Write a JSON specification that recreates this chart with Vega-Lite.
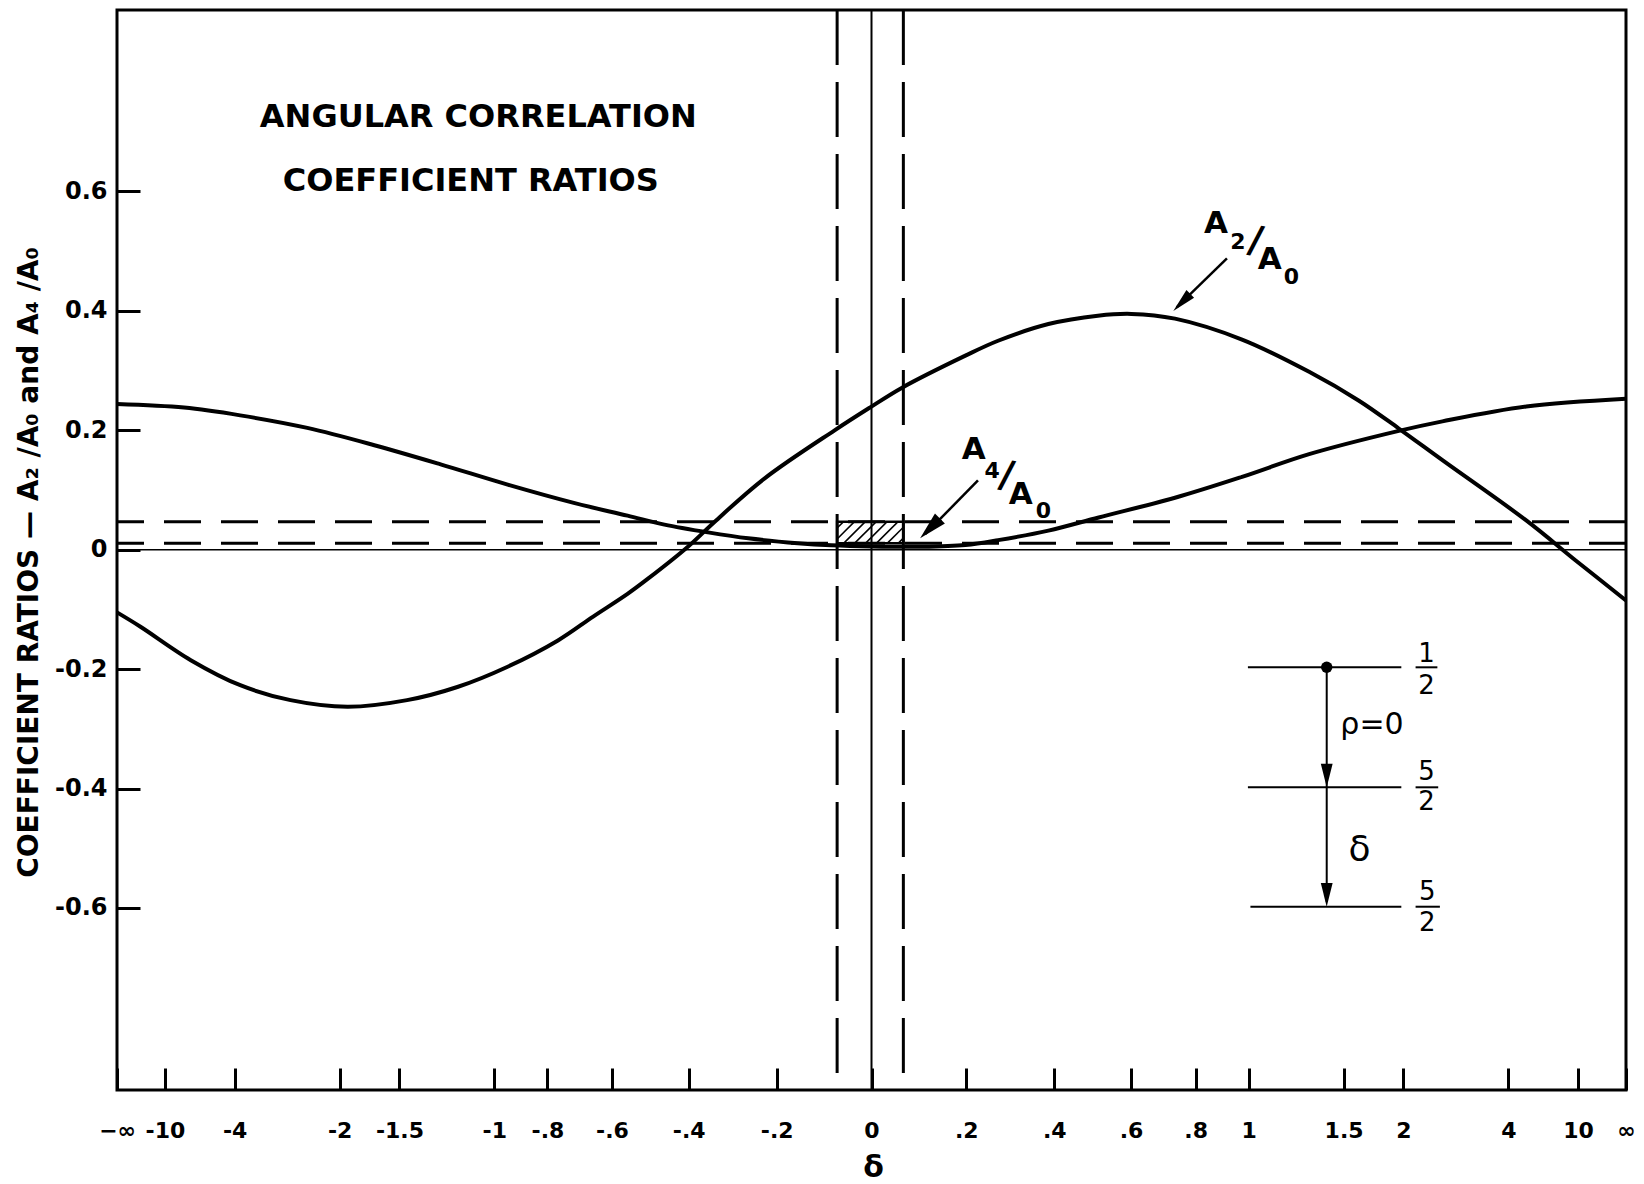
{
  "$schema": "https://vega.github.io/schema/vega-lite/v6.json",
  "width": 1509,
  "height": 1080,
  "autosize": {"type": "none"},
  "padding": {"left": 117, "top": 10, "right": 18, "bottom": 94},
  "background": "white",
  "config": {
    "font": "DejaVu Sans",
    "view": {"stroke": "black", "strokeWidth": 3},
    "axis": {"grid": false, "domain": false, "labelColor": "black", "tickColor": "black", "titleColor": "black"}
  },
  "datasets": {
    "curves": [
      {"ratio": "A2/A0", "atan_delta_deg": -90, "value": -0.105},
      {"ratio": "A2/A0", "atan_delta_deg": -87.2, "value": -0.129},
      {"ratio": "A2/A0", "atan_delta_deg": -81.2, "value": -0.185},
      {"ratio": "A2/A0", "atan_delta_deg": -75.3, "value": -0.227},
      {"ratio": "A2/A0", "atan_delta_deg": -69.3, "value": -0.252},
      {"ratio": "A2/A0", "atan_delta_deg": -62.5, "value": -0.263},
      {"ratio": "A2/A0", "atan_delta_deg": -55.4, "value": -0.252},
      {"ratio": "A2/A0", "atan_delta_deg": -49.4, "value": -0.23},
      {"ratio": "A2/A0", "atan_delta_deg": -43.4, "value": -0.196},
      {"ratio": "A2/A0", "atan_delta_deg": -37.4, "value": -0.152},
      {"ratio": "A2/A0", "atan_delta_deg": -33.2, "value": -0.112},
      {"ratio": "A2/A0", "atan_delta_deg": -29.1, "value": -0.074},
      {"ratio": "A2/A0", "atan_delta_deg": -26.7, "value": -0.049},
      {"ratio": "A2/A0", "atan_delta_deg": -21.9, "value": 0.005},
      {"ratio": "A2/A0", "atan_delta_deg": -18.7, "value": 0.047},
      {"ratio": "A2/A0", "atan_delta_deg": -12.7, "value": 0.12},
      {"ratio": "A2/A0", "atan_delta_deg": -4.4, "value": 0.2},
      {"ratio": "A2/A0", "atan_delta_deg": -0.2, "value": 0.238},
      {"ratio": "A2/A0", "atan_delta_deg": 3.6, "value": 0.271},
      {"ratio": "A2/A0", "atan_delta_deg": 11.2, "value": 0.325},
      {"ratio": "A2/A0", "atan_delta_deg": 15.1, "value": 0.35},
      {"ratio": "A2/A0", "atan_delta_deg": 21.1, "value": 0.378},
      {"ratio": "A2/A0", "atan_delta_deg": 27.0, "value": 0.392},
      {"ratio": "A2/A0", "atan_delta_deg": 31.0, "value": 0.395},
      {"ratio": "A2/A0", "atan_delta_deg": 36.2, "value": 0.387},
      {"ratio": "A2/A0", "atan_delta_deg": 44.2, "value": 0.352},
      {"ratio": "A2/A0", "atan_delta_deg": 52.2, "value": 0.298},
      {"ratio": "A2/A0", "atan_delta_deg": 58.1, "value": 0.25},
      {"ratio": "A2/A0", "atan_delta_deg": 62.9, "value": 0.203},
      {"ratio": "A2/A0", "atan_delta_deg": 68.1, "value": 0.15},
      {"ratio": "A2/A0", "atan_delta_deg": 78.1, "value": 0.049},
      {"ratio": "A2/A0", "atan_delta_deg": 84.0, "value": -0.018},
      {"ratio": "A2/A0", "atan_delta_deg": 90, "value": -0.085},
      {"ratio": "A4/A0", "atan_delta_deg": -90, "value": 0.244},
      {"ratio": "A4/A0", "atan_delta_deg": -82.0, "value": 0.238},
      {"ratio": "A4/A0", "atan_delta_deg": -75.3, "value": 0.225},
      {"ratio": "A4/A0", "atan_delta_deg": -67.3, "value": 0.204},
      {"ratio": "A4/A0", "atan_delta_deg": -59.3, "value": 0.175},
      {"ratio": "A4/A0", "atan_delta_deg": -51.4, "value": 0.143},
      {"ratio": "A4/A0", "atan_delta_deg": -43.4, "value": 0.109},
      {"ratio": "A4/A0", "atan_delta_deg": -35.4, "value": 0.078},
      {"ratio": "A4/A0", "atan_delta_deg": -29.1, "value": 0.057},
      {"ratio": "A4/A0", "atan_delta_deg": -24.7, "value": 0.042},
      {"ratio": "A4/A0", "atan_delta_deg": -19.5, "value": 0.029},
      {"ratio": "A4/A0", "atan_delta_deg": -14.7, "value": 0.019},
      {"ratio": "A4/A0", "atan_delta_deg": -8.8, "value": 0.011},
      {"ratio": "A4/A0", "atan_delta_deg": -4.8, "value": 0.0075},
      {"ratio": "A4/A0", "atan_delta_deg": 0, "value": 0.0055},
      {"ratio": "A4/A0", "atan_delta_deg": 6.0, "value": 0.005},
      {"ratio": "A4/A0", "atan_delta_deg": 11.2, "value": 0.008},
      {"ratio": "A4/A0", "atan_delta_deg": 15.1, "value": 0.016},
      {"ratio": "A4/A0", "atan_delta_deg": 21.1, "value": 0.032},
      {"ratio": "A4/A0", "atan_delta_deg": 27.1, "value": 0.054},
      {"ratio": "A4/A0", "atan_delta_deg": 36.2, "value": 0.087},
      {"ratio": "A4/A0", "atan_delta_deg": 44.2, "value": 0.122},
      {"ratio": "A4/A0", "atan_delta_deg": 52.2, "value": 0.16},
      {"ratio": "A4/A0", "atan_delta_deg": 62.9, "value": 0.199},
      {"ratio": "A4/A0", "atan_delta_deg": 68.1, "value": 0.215},
      {"ratio": "A4/A0", "atan_delta_deg": 78.1, "value": 0.24},
      {"ratio": "A4/A0", "atan_delta_deg": 90, "value": 0.253}
    ],
    "hatch": [
      {"x": -4.1, "y": 0.0362, "x2": -3.33, "y2": 0.047},
      {"x": -4.1, "y": 0.018, "x2": -2.03, "y2": 0.047},
      {"x": -3.3, "y": 0.011, "x2": -0.73, "y2": 0.047},
      {"x": -2.0, "y": 0.011, "x2": 0.57, "y2": 0.047},
      {"x": -0.7, "y": 0.011, "x2": 1.87, "y2": 0.047},
      {"x": 0.6, "y": 0.011, "x2": 3.17, "y2": 0.047},
      {"x": 1.9, "y": 0.011, "x2": 3.8, "y2": 0.0376},
      {"x": 3.2, "y": 0.011, "x2": 3.8, "y2": 0.0194}
    ]
  },
  "layer": [
    {
      "data": {"name": "curves"},
      "mark": {"type": "line", "interpolate": "catmull-rom", "color": "black", "strokeWidth": 4},
      "encoding": {
        "x": {
          "field": "atan_delta_deg", "type": "quantitative",
          "scale": {"domain": [-90, 90], "nice": false, "zero": false},
          "axis": {
            "title": "δ",
            "values": [-90, -84.289, -75.964, -63.435, -56.31, -45, -38.66, -30.964, -21.801, -11.31, 0, 11.31, 21.801, 30.964, 38.66, 45, 56.31, 63.435, 75.964, 84.289, 90],
            "labelExpr": "['−∞','-10','-4','-2','-1.5','-1','-.8','-.6','-.4','-.2','0','.2','.4','.6','.8','1','1.5','2','4','10','∞'][indexof([-90,-84.289,-75.964,-63.435,-56.31,-45,-38.66,-30.964,-21.801,-11.31,0,11.31,21.801,30.964,38.66,45,56.31,63.435,75.964,84.289,90], datum.value)]",
            "tickSize": -22,
            "tickWidth": 3,
            "labelPadding": 52,
            "labelFontSize": 22,
            "labelFontWeight": "bold",
            "labelOverlap": false,
            "labelFlush": false,
            "labelBound": false,
            "titleFontSize": 30,
            "titleFontWeight": "bold",
            "titleX": 756,
            "titleY": 86,
            "titleAlign": "center",
            "titleBaseline": "alphabetic"
          }
        },
        "y": {
          "field": "value", "type": "quantitative",
          "scale": {"domain": [-0.905, 0.904], "nice": false, "zero": false},
          "axis": {
            "title": "COEFFICIENT RATIOS — A₂ /A₀ and A₄ /A₀",
            "values": [-0.6, -0.4, -0.2, 0, 0.2, 0.4, 0.6],
            "labelExpr": "datum.value == 0 ? '0' : (datum.value < 0 ? '-' : '') + format(abs(datum.value), '.1f')",
            "tickSize": -23,
            "tickWidth": 3,
            "labelPadding": 33,
            "labelFontSize": 24,
            "labelFontWeight": "bold",
            "labelOverlap": false,
            "labelFlush": false,
            "labelBound": false,
            "titleFontSize": 28,
            "titleFontWeight": "bold",
            "titleAngle": -90,
            "titleX": -88,
            "titleY": 552,
            "titleAlign": "center",
            "titleBaseline": "middle"
          }
        },
        "detail": {"field": "ratio", "type": "nominal"}
      }
    },
    {
      "data": {"values": [{"value": 0}]},
      "mark": {"type": "rule", "color": "black", "strokeWidth": 1.5},
      "encoding": {
        "y": {"field": "value", "type": "quantitative", "scale": {"domain": [-0.905, 0.904], "nice": false, "zero": false}}
      }
    },
    {
      "data": {"values": [{"atan_delta_deg": 0}]},
      "mark": {"type": "rule", "color": "black", "strokeWidth": 2},
      "encoding": {
        "x": {"field": "atan_delta_deg", "type": "quantitative", "scale": {"domain": [-90, 90], "nice": false, "zero": false}}
      }
    },
    {
      "data": {"values": [{"value": 0.011}, {"value": 0.047}]},
      "mark": {"type": "rule", "color": "black", "strokeWidth": 3, "strokeDash": [37, 20]},
      "encoding": {
        "y": {"field": "value", "type": "quantitative", "scale": {"domain": [-0.905, 0.904], "nice": false, "zero": false}}
      }
    },
    {
      "data": {"values": [{"atan_delta_deg": -4.1}, {"atan_delta_deg": 3.8}]},
      "mark": {"type": "rule", "color": "black", "strokeWidth": 3, "strokeDash": [55, 17]},
      "encoding": {
        "x": {"field": "atan_delta_deg", "type": "quantitative", "scale": {"domain": [-90, 90], "nice": false, "zero": false}}
      }
    },
    {
      "data": {"values": [{"x": -4.1, "x2": 3.8, "y": 0.011, "y2": 0.047}]},
      "mark": {"type": "rect", "fill": null, "fillOpacity": 0, "stroke": "black", "strokeWidth": 2.5},
      "encoding": {
        "x": {"field": "x", "type": "quantitative", "scale": {"domain": [-90, 90], "nice": false, "zero": false}},
        "x2": {"field": "x2"},
        "y": {"field": "y", "type": "quantitative", "scale": {"domain": [-0.905, 0.904], "nice": false, "zero": false}},
        "y2": {"field": "y2"}
      }
    },
    {
      "data": {"name": "hatch"},
      "mark": {"type": "rule", "color": "black", "strokeWidth": 1.5},
      "encoding": {
        "x": {"field": "x", "type": "quantitative", "scale": {"domain": [-90, 90], "nice": false, "zero": false}},
        "x2": {"field": "x2"},
        "y": {"field": "y", "type": "quantitative", "scale": {"domain": [-0.905, 0.904], "nice": false, "zero": false}},
        "y2": {"field": "y2"}
      }
    },
    {
      "data": {"values": [
        {"x": 42.4, "y": 0.488, "x2": 36.4, "y2": 0.406},
        {"x": 12.7, "y": 0.116, "x2": 6.4, "y2": 0.026}
      ]},
      "mark": {"type": "rule", "color": "black", "strokeWidth": 2.5},
      "encoding": {
        "x": {"field": "x", "type": "quantitative", "scale": {"domain": [-90, 90], "nice": false, "zero": false}},
        "x2": {"field": "x2"},
        "y": {"field": "y", "type": "quantitative", "scale": {"domain": [-0.905, 0.904], "nice": false, "zero": false}},
        "y2": {"field": "y2"}
      }
    },
    {
      "data": {"values": [{"x": 36.0, "y": 0.4}]},
      "mark": {"type": "point", "shape": "M0,0L-0.45,2L0.45,2Z", "filled": true, "color": "black", "opacity": 1, "size": 576, "angle": 225},
      "encoding": {
        "x": {"field": "x", "type": "quantitative", "scale": {"domain": [-90, 90], "nice": false, "zero": false}},
        "y": {"field": "y", "type": "quantitative", "scale": {"domain": [-0.905, 0.904], "nice": false, "zero": false}}
      }
    },
    {
      "data": {"values": [{"x": 5.8, "y": 0.019}]},
      "mark": {"type": "point", "shape": "M0,0L-0.5,2L0.5,2Z", "filled": true, "color": "black", "opacity": 1, "size": 784, "angle": 225},
      "encoding": {
        "x": {"field": "x", "type": "quantitative", "scale": {"domain": [-90, 90], "nice": false, "zero": false}},
        "y": {"field": "y", "type": "quantitative", "scale": {"domain": [-0.905, 0.904], "nice": false, "zero": false}}
      }
    },
    {
      "data": {"values": [
        {"x": -46.9, "y": 0.724, "t": "ANGULAR  CORRELATION"},
        {"x": -47.8, "y": 0.618, "t": "COEFFICIENT  RATIOS"}
      ]},
      "mark": {"type": "text", "fontSize": 32, "fontWeight": "bold", "color": "black", "baseline": "middle"},
      "encoding": {
        "x": {"field": "x", "type": "quantitative", "scale": {"domain": [-90, 90], "nice": false, "zero": false}},
        "y": {"field": "y", "type": "quantitative", "scale": {"domain": [-0.905, 0.904], "nice": false, "zero": false}},
        "text": {"field": "t"}
      }
    },
    {
      "data": {"values": [
        {"x": 41.1, "y": 0.545, "t": "A"},
        {"x": 47.5, "y": 0.485, "t": "A"},
        {"x": 12.2, "y": 0.1675, "t": "A"},
        {"x": 17.8, "y": 0.092, "t": "A"}
      ]},
      "mark": {"type": "text", "fontSize": 31, "fontWeight": "bold", "color": "black", "baseline": "middle"},
      "encoding": {
        "x": {"field": "x", "type": "quantitative", "scale": {"domain": [-90, 90], "nice": false, "zero": false}},
        "y": {"field": "y", "type": "quantitative", "scale": {"domain": [-0.905, 0.904], "nice": false, "zero": false}},
        "text": {"field": "t"}
      }
    },
    {
      "data": {"values": [
        {"x": 45.8, "y": 0.516, "t": "/"},
        {"x": 16.1, "y": 0.123, "t": "/"}
      ]},
      "mark": {"type": "text", "fontSize": 38, "fontWeight": "bold", "color": "black", "baseline": "middle", "angle": 10},
      "encoding": {
        "x": {"field": "x", "type": "quantitative", "scale": {"domain": [-90, 90], "nice": false, "zero": false}},
        "y": {"field": "y", "type": "quantitative", "scale": {"domain": [-0.905, 0.904], "nice": false, "zero": false}},
        "text": {"field": "t"}
      }
    },
    {
      "data": {"values": [
        {"x": 43.7, "y": 0.516, "t": "2"},
        {"x": 50.1, "y": 0.456, "t": "0"},
        {"x": 14.4, "y": 0.131, "t": "4"},
        {"x": 20.5, "y": 0.065, "t": "0"}
      ]},
      "mark": {"type": "text", "fontSize": 22, "fontWeight": "bold", "color": "black", "baseline": "middle"},
      "encoding": {
        "x": {"field": "x", "type": "quantitative", "scale": {"domain": [-90, 90], "nice": false, "zero": false}},
        "y": {"field": "y", "type": "quantitative", "scale": {"domain": [-0.905, 0.904], "nice": false, "zero": false}},
        "text": {"field": "t"}
      }
    },
    {
      "data": {"values": [
        {"x": 44.9, "x2": 63.2, "y": -0.197},
        {"x": 44.9, "x2": 63.2, "y": -0.398},
        {"x": 45.2, "x2": 63.2, "y": -0.598},
        {"x": 64.9, "x2": 67.5, "y": -0.197},
        {"x": 64.9, "x2": 67.6, "y": -0.398},
        {"x": 64.9, "x2": 67.8, "y": -0.598}
      ]},
      "mark": {"type": "rule", "color": "black", "strokeWidth": 2},
      "encoding": {
        "x": {"field": "x", "type": "quantitative", "scale": {"domain": [-90, 90], "nice": false, "zero": false}},
        "x2": {"field": "x2"},
        "y": {"field": "y", "type": "quantitative", "scale": {"domain": [-0.905, 0.904], "nice": false, "zero": false}}
      }
    },
    {
      "data": {"values": [{"x": 54.3, "y": -0.197, "y2": -0.59}]},
      "mark": {"type": "rule", "color": "black", "strokeWidth": 2},
      "encoding": {
        "x": {"field": "x", "type": "quantitative", "scale": {"domain": [-90, 90], "nice": false, "zero": false}},
        "y": {"field": "y", "type": "quantitative", "scale": {"domain": [-0.905, 0.904], "nice": false, "zero": false}},
        "y2": {"field": "y2"}
      }
    },
    {
      "data": {"values": [{"x": 54.3, "y": -0.197}]},
      "mark": {"type": "point", "shape": "circle", "filled": true, "color": "black", "opacity": 1, "size": 130},
      "encoding": {
        "x": {"field": "x", "type": "quantitative", "scale": {"domain": [-90, 90], "nice": false, "zero": false}},
        "y": {"field": "y", "type": "quantitative", "scale": {"domain": [-0.905, 0.904], "nice": false, "zero": false}}
      }
    },
    {
      "data": {"values": [{"x": 54.3, "y": -0.398}, {"x": 54.3, "y": -0.598}]},
      "mark": {"type": "point", "shape": "M0,0L-0.5,2L0.5,2Z", "filled": true, "color": "black", "opacity": 1, "size": 560, "angle": 180},
      "encoding": {
        "x": {"field": "x", "type": "quantitative", "scale": {"domain": [-90, 90], "nice": false, "zero": false}},
        "y": {"field": "y", "type": "quantitative", "scale": {"domain": [-0.905, 0.904], "nice": false, "zero": false}}
      }
    },
    {
      "data": {"values": [
        {"x": 66.2, "y": -0.174, "t": "1"},
        {"x": 66.2, "y": -0.228, "t": "2"},
        {"x": 66.2, "y": -0.373, "t": "5"},
        {"x": 66.2, "y": -0.423, "t": "2"},
        {"x": 66.3, "y": -0.573, "t": "5"},
        {"x": 66.3, "y": -0.625, "t": "2"}
      ]},
      "mark": {"type": "text", "fontSize": 26, "color": "black", "baseline": "middle"},
      "encoding": {
        "x": {"field": "x", "type": "quantitative", "scale": {"domain": [-90, 90], "nice": false, "zero": false}},
        "y": {"field": "y", "type": "quantitative", "scale": {"domain": [-0.905, 0.904], "nice": false, "zero": false}},
        "text": {"field": "t"}
      }
    },
    {
      "data": {"values": [{"x": 59.7, "y": -0.294, "t": "ρ=0"}]},
      "mark": {"type": "text", "fontSize": 30, "color": "black", "baseline": "middle"},
      "encoding": {
        "x": {"field": "x", "type": "quantitative", "scale": {"domain": [-90, 90], "nice": false, "zero": false}},
        "y": {"field": "y", "type": "quantitative", "scale": {"domain": [-0.905, 0.904], "nice": false, "zero": false}},
        "text": {"field": "t"}
      }
    },
    {
      "data": {"values": [{"x": 58.2, "y": -0.503, "t": "δ"}]},
      "mark": {"type": "text", "fontSize": 36, "color": "black", "baseline": "middle"},
      "encoding": {
        "x": {"field": "x", "type": "quantitative", "scale": {"domain": [-90, 90], "nice": false, "zero": false}},
        "y": {"field": "y", "type": "quantitative", "scale": {"domain": [-0.905, 0.904], "nice": false, "zero": false}},
        "text": {"field": "t"}
      }
    }
  ]
}
